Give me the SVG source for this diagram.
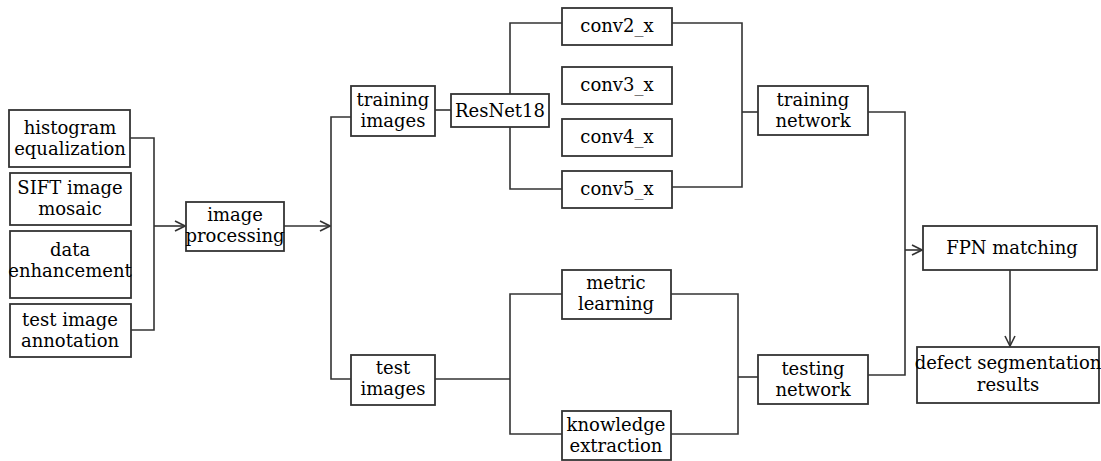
<svg xmlns="http://www.w3.org/2000/svg" width="1101" height="461" viewBox="0 0 1101 461">
<defs>
<style>
.box{fill:#fff;stroke:#333;stroke-width:1.8}
.ln{fill:none;stroke:#333;stroke-width:1.6}
text{font-family:"DejaVu Serif","Liberation Serif",serif;font-size:18px;fill:#000;text-anchor:middle}
</style>
<marker id="arr" viewBox="0 0 12 12" refX="11" refY="6" markerWidth="12" markerHeight="12" markerUnits="userSpaceOnUse" orient="auto">
<path d="M1,1 L11,6 L1,11" fill="none" stroke="#333" stroke-width="1.6"/>
</marker>
</defs>
<rect width="1101" height="461" fill="#fff"/>
<g id="connectors">
<path class="ln" d="M130,138 H154 V330 H131"/>
<path class="ln" d="M154,226 H185" marker-end="url(#arr)"/>
<path class="ln" d="M284,226 H330" marker-end="url(#arr)"/>
<path class="ln" d="M351,117 H331 V379 H351"/>
<path class="ln" d="M435,110 H451"/>
<path class="ln" d="M562,23 H510 V189 H562"/>
<path class="ln" d="M672,23 H742 V187 H672"/>
<path class="ln" d="M742,112 H758"/>
<path class="ln" d="M868,112 H905 V375 H868"/>
<path class="ln" d="M905,250 H922" marker-end="url(#arr)"/>
<path class="ln" d="M435,379 H510"/>
<path class="ln" d="M562,294 H510 V434 H562"/>
<path class="ln" d="M671,294 H738 V434 H671"/>
<path class="ln" d="M738,377 H758"/>
<path class="ln" d="M1010,270 V346" marker-end="url(#arr)"/>
</g>
<g id="hist"><rect class="box" x="9" y="110" width="121" height="57"/><text x="70" y="134">histogram</text><text x="70" y="155">equalization</text></g>
<g id="sift"><rect class="box" x="10" y="173" width="121" height="52"/><text x="70" y="194">SIFT image</text><text x="70" y="215">mosaic</text></g>
<g id="data"><rect class="box" x="10" y="231" width="121" height="67"/><text x="70" y="256">data</text><text x="70" y="277">enhancement</text></g>
<g id="annot"><rect class="box" x="10" y="304" width="121" height="53"/><text x="70" y="326">test image</text><text x="70" y="347">annotation</text></g>
<g id="improc"><rect class="box" x="186" y="202" width="98" height="49"/><text x="235" y="221">image</text><text x="235" y="242">processing</text></g>
<g id="trainimg"><rect class="box" x="351" y="86" width="84" height="50"/><text x="393" y="106">training</text><text x="393" y="127">images</text></g>
<g id="resnet"><rect class="box" x="451" y="94" width="98" height="33"/><text x="500" y="117">ResNet18</text></g>
<g id="conv2"><rect class="box" x="562" y="8" width="110" height="37"/><text x="617" y="32">conv2_x</text></g>
<g id="conv3"><rect class="box" x="562" y="67" width="110" height="37"/><text x="617" y="91">conv3_x</text></g>
<g id="conv4"><rect class="box" x="562" y="119" width="110" height="37"/><text x="617" y="143">conv4_x</text></g>
<g id="conv5"><rect class="box" x="562" y="171" width="110" height="37"/><text x="617" y="195">conv5_x</text></g>
<g id="trainnet"><rect class="box" x="758" y="86" width="110" height="49"/><text x="813" y="106">training</text><text x="813" y="127">network</text></g>
<g id="testimg"><rect class="box" x="351" y="355" width="84" height="50"/><text x="393" y="374">test</text><text x="393" y="395">images</text></g>
<g id="metric"><rect class="box" x="562" y="270" width="109" height="49"/><text x="616" y="289">metric</text><text x="616" y="310">learning</text></g>
<g id="knowledge"><rect class="box" x="562" y="411" width="109" height="49"/><text x="616" y="431">knowledge</text><text x="616" y="452">extraction</text></g>
<g id="testnet"><rect class="box" x="758" y="355" width="110" height="49"/><text x="813" y="375">testing</text><text x="813" y="396">network</text></g>
<g id="fpn"><rect class="box" x="923" y="226" width="174" height="44"/><text x="1012" y="254">FPN matching</text></g>
<g id="defect"><rect class="box" x="917" y="347" width="182" height="56"/><text x="1008" y="369">defect segmentation</text><text x="1008" y="391">results</text></g>
</svg>
